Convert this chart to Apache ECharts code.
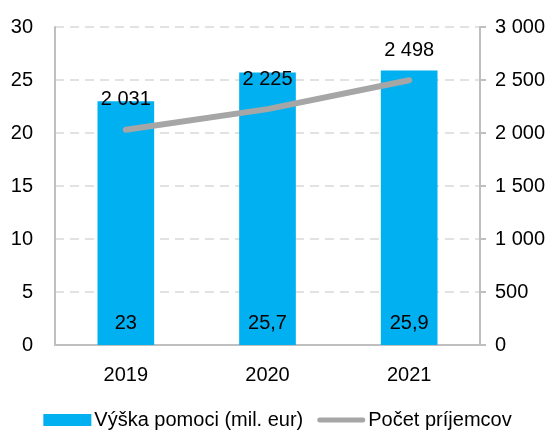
<!DOCTYPE html>
<html>
<head>
<meta charset="utf-8">
<script src="https://cdn.jsdelivr.net/npm/echarts@6/dist/echarts.min.js"></script>
<style>
  html, body { margin: 0; padding: 0; background: #fff; }
  #chart { width: 555px; height: 436px; }
</style>
</head>
<body>
<div id="chart"></div>
<script>
  // data
  var years = ['2019', '2020', '2021'];
  var vyskaPomoci = [23, 25.7, 25.9];
  var pocetPrijemcov = [2031, 2225, 2498];

  var font = '"Liberation Sans", Arial, sans-serif';
  var fmtSpace = function (v) {
    return String(v).replace(/\B(?=(\d{3})+(?!\d))/g, ' ');
  };

  var chart = echarts.init(document.getElementById('chart'));
  chart.setOption({
    animation: false,
    textStyle: { fontFamily: font, color: '#000' },
    grid: { left: 55, right: 75, top: 27, bottom: 91 },
    legend: {
      bottom: 1,
      left: 'center',
      itemWidth: 48,
      itemHeight: 12,
      itemGap: 14,
      textStyle: { fontFamily: font, fontSize: 20, color: '#000', padding: [0, 0, 0, -2] },
      data: [
        { name: 'Výška pomoci (mil. eur)', icon: 'rect' },
        { name: 'Počet príjemcov', icon: 'path://M2.5,0 L45.5,0 A2.5,2.5 0 0 1 45.5,5 L2.5,5 A2.5,2.5 0 0 1 2.5,0 Z' }
      ]
    },
    xAxis: {
      type: 'category',
      data: years,
      axisLine: { lineStyle: { color: '#BFBFBF', width: 2 } },
      axisTick: { show: false },
      axisLabel: { fontSize: 20, color: '#000', margin: 20, fontFamily: font }
    },
    yAxis: [
      {
        type: 'value',
        min: 0, max: 30, interval: 5,
        axisLine: { show: true, lineStyle: { color: '#BFBFBF', width: 2 } },
        axisTick: { show: false },
        splitLine: { lineStyle: { color: '#D9D9D9', type: [9, 6], width: 1.5 } },
        axisLabel: { fontSize: 20, color: '#000', margin: 22, fontFamily: font }
      },
      {
        type: 'value',
        min: 0, max: 3000, interval: 500,
        position: 'right',
        axisLine: { show: true, lineStyle: { color: '#BFBFBF', width: 2 } },
        axisTick: { show: true, length: 6, lineStyle: { color: '#BFBFBF', width: 2 } },
        splitLine: { show: false },
        axisLabel: {
          fontSize: 20, color: '#000', margin: 15, fontFamily: font,
          formatter: fmtSpace
        }
      }
    ],
    series: [
      {
        name: 'Výška pomoci (mil. eur)',
        type: 'bar',
        data: vyskaPomoci,
        barWidth: '40%',
        itemStyle: { color: '#00B0F0' },
        label: {
          show: true,
          position: 'insideBottom',
          distance: 12,
          fontSize: 20,
          color: '#000',
          fontFamily: font,
          formatter: function (p) { return String(p.value).replace('.', ','); }
        }
      },
      {
        name: 'Počet príjemcov',
        type: 'line',
        yAxisIndex: 1,
        data: pocetPrijemcov,
        symbol: 'circle',
        symbolSize: 0,
        showSymbol: true,
        lineStyle: { color: '#A6A6A6', width: 6, cap: 'round' },
        itemStyle: { color: '#A6A6A6' },
        label: {
          show: true,
          position: 'top',
          distance: 20,
          fontSize: 20,
          color: '#000',
          fontFamily: font,
          formatter: function (p) { return fmtSpace(p.value); }
        }
      }
    ]
  });
</script>
</body>
</html>
